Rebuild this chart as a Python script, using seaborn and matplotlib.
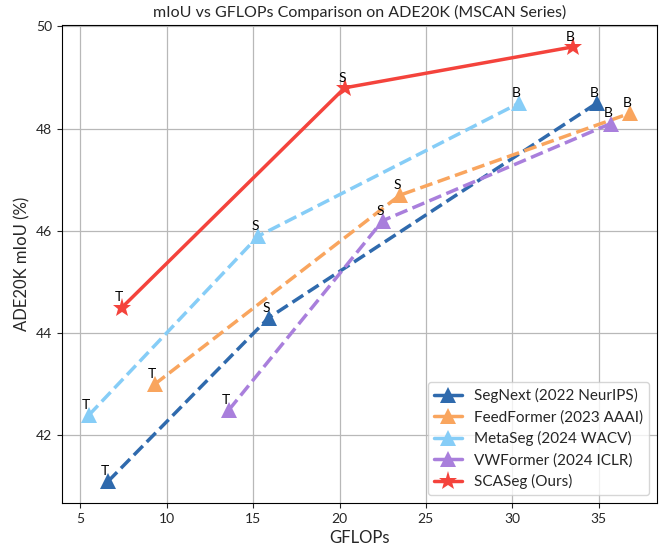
# Import libraries
import pandas as pd
import seaborn as sns
import matplotlib.pyplot as plt

# Model sizes and values
sizes = ["T", "S", "B"]

segnext_gflops = [6.6, 15.9, 34.9]
segnext_miou = [41.1, 44.3, 48.5]

feedformer_gflops = [9.3, 23.5, 36.8]
feedformer_miou = [43.0, 46.7, 48.3]

metaseg_gflops = [5.5, 15.3, 30.4]
metaseg_miou = [42.4, 45.9, 48.5]

vwformer_gflops = [13.6, 22.5, 35.7]
vwformer_miou = [42.5, 46.2, 48.1]

scaseg_gflops = [7.4, 20.3, 33.5]
scaseg_miou = [44.5, 48.8, 49.6]

series = [
    ("SegNext (2022 NeurIPS)", segnext_gflops, segnext_miou, "#2f6aad", "^", "--"),
    ("FeedFormer (2023 AAAI)", feedformer_gflops, feedformer_miou, "#f9a55e", "^", "--"),
    ("MetaSeg (2024 WACV)", metaseg_gflops, metaseg_miou, "#86cdf7", "^", "--"),
    ("VWFormer (2024 ICLR)", vwformer_gflops, vwformer_miou, "#a97fdc", "^", "--"),
    ("SCASeg (Ours)", scaseg_gflops, scaseg_miou, "#f4433c", "*", "-"),
]

sns.set_style("ticks")
plt.rcParams["font.family"] = ["Lato", "DejaVu Sans"]

fig = plt.figure(figsize=(6.6, 5.48), dpi=100)
ax = fig.add_axes([0.094, 0.082, 0.901, 0.872])

for name, gx, gy, color, marker, ls in series:
    df = pd.DataFrame({"GFLOPs": gx, "mIoU": gy, "size": sizes})
    ms = 14 if marker == "*" else 11
    sns.lineplot(data=df, x="GFLOPs", y="mIoU", ax=ax, color=color, sort=False,
                 linestyle=ls, linewidth=2.5, marker=marker, markersize=ms,
                 markeredgewidth=0, label=name)
    for _, row in df.iterrows():
        ax.annotate(row["size"], (row["GFLOPs"], row["mIoU"]), xytext=(-2, 3),
                    textcoords="offset points", ha="center", va="bottom",
                    fontsize=10, color="black")

ax.grid(True, color="#b8b8b8", linewidth=0.9)
for s in ax.spines.values():
    s.set_visible(True)
    s.set_color("black")
ax.set_title("mIoU vs GFLOPs Comparison on ADE20K (MSCAN Series)", fontsize=11.5)
ax.set_xlabel("GFLOPs", fontsize=12)
ax.set_ylabel("ADE20K mIoU (%)", fontsize=12)
ax.set_xticks([5, 10, 15, 20, 25, 30, 35])
ax.set_yticks([42, 44, 46, 48, 50])
ax.tick_params(labelsize=10)
leg = ax.legend(loc="lower right", fontsize=11, frameon=True, handlelength=1.8,
                labelspacing=0.45)
for h in leg.get_lines():
    h.set_linestyle("-")

fig.savefig("out.png", dpi=100)
